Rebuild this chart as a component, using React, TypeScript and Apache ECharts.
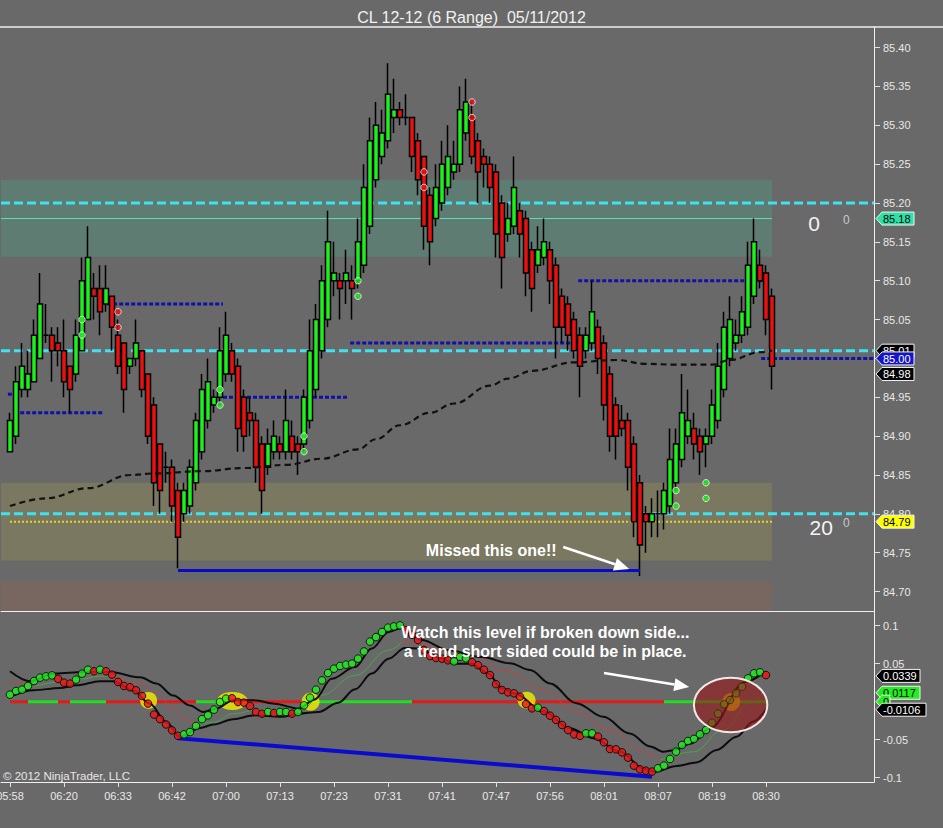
import React, { useEffect, useRef } from "react";
import * as echarts from "echarts";

const TITLE = "CL 12-12 (6 Range)  05/11/2012";
const COPYRIGHT = "\u00a9 2012 NinjaTrader, LLC";
const NOTE_MISSED = "Missed this one!!";
const NOTE_WATCH = "Watch this level if broken down side...\na trend short sided could be in place.";

// ---- price bars (index 0..127) ----
const opens = [
  84.88, 84.90, 84.96, 84.96, 84.97, 85.00, 85.03, 85.03, 85.02, 85.01,
  84.99, 84.98, 85.01, 85.05, 85.09, 85.09, 85.07, 85.08, 85.03, 85.02,
  84.99, 85.00, 85.01, 84.98, 84.94, 84.89, 84.86, 84.86, 84.83, 84.80,
  84.81, 84.84, 84.88, 84.92, 84.94, 84.95, 84.98, 85.01, 84.99, 84.95,
  84.93, 84.92, 84.89, 84.86, 84.88, 84.89, 84.88, 84.90, 84.89, 84.89,
  84.92, 84.96, 85.01, 85.05, 85.10, 85.10, 85.10, 85.10, 85.10, 85.12,
  85.17, 85.23, 85.26, 85.28, 85.31, 85.32, 85.31, 85.31, 85.28, 85.26,
  85.21, 85.18, 85.20, 85.22, 85.24, 85.25, 85.29, 85.31, 85.28, 85.26,
  85.25, 85.24, 85.20, 85.16, 85.17, 85.19, 85.18, 85.14, 85.12, 85.13,
  85.14, 85.12, 85.08, 85.07, 85.05, 85.03, 85.01, 85.02, 85.04, 85.02,
  84.98, 84.94, 84.92, 84.92, 84.89, 84.84, 84.80, 84.79, 84.80, 84.80,
  84.81, 84.84, 84.87, 84.90, 84.91, 84.90, 84.89, 84.90, 84.92, 84.96,
  85.00, 85.02, 85.03, 85.04, 85.08, 85.12, 85.11, 85.08,
];
const highs = [
  84.93, 84.99, 85.02, 85.01, 85.05, 85.11, 85.07, 85.04, 85.04, 85.05,
  84.99, 85.05, 85.13, 85.17, 85.11, 85.12, 85.12, 85.08, 85.05, 85.02,
  85.00, 85.05, 85.01, 84.98, 84.95, 84.89, 84.88, 84.87, 84.84, 84.84,
  84.87, 84.93, 84.98, 85.00, 84.96, 85.04, 85.06, 85.02, 85.00, 84.96,
  84.95, 84.93, 84.90, 84.91, 84.92, 84.90, 84.96, 84.92, 84.90, 84.96,
  85.05, 85.07, 85.12, 85.19, 85.15, 85.11, 85.14, 85.12, 85.18, 85.25,
  85.31, 85.33, 85.32, 85.38, 85.36, 85.33, 85.34, 85.31, 85.29, 85.26,
  85.22, 85.25, 85.28, 85.30, 85.28, 85.35, 85.36, 85.33, 85.29, 85.27,
  85.26, 85.25, 85.21, 85.20, 85.26, 85.20, 85.19, 85.15, 85.17, 85.18,
  85.15, 85.13, 85.09, 85.08, 85.06, 85.04, 85.04, 85.10, 85.05, 85.03,
  84.99, 84.95, 84.94, 84.93, 84.90, 84.85, 84.81, 84.82, 84.83, 84.84,
  84.91, 84.91, 84.98, 84.96, 84.93, 84.91, 84.91, 84.96, 85.02, 85.06,
  85.08, 85.05, 85.08, 85.15, 85.18, 85.14, 85.12, 85.09,
];
const lows = [
  84.88, 84.89, 84.95, 84.95, 84.97, 85.00, 85.02, 84.97, 84.99, 84.95,
  84.93, 84.97, 85.01, 85.05, 85.05, 85.03, 85.06, 85.01, 84.98, 84.93,
  84.98, 84.99, 84.95, 84.89, 84.81, 84.80, 84.84, 84.79, 84.73, 84.79,
  84.80, 84.83, 84.87, 84.91, 84.93, 84.94, 84.97, 84.97, 84.88, 84.88,
  84.90, 84.84, 84.80, 84.85, 84.87, 84.87, 84.87, 84.87, 84.85, 84.88,
  84.91, 84.95, 85.00, 85.04, 85.08, 85.05, 85.07, 85.05, 85.09, 85.11,
  85.16, 85.22, 85.25, 85.27, 85.29, 85.30, 85.30, 85.24, 85.21, 85.14,
  85.12, 85.17, 85.19, 85.21, 85.23, 85.24, 85.28, 85.25, 85.20, 85.22,
  85.20, 85.13, 85.09, 85.15, 85.16, 85.13, 85.08, 85.06, 85.11, 85.12,
  85.07, 85.00, 85.02, 85.01, 85.00, 84.95, 85.00, 85.01, 84.98, 84.92,
  84.88, 84.87, 84.90, 84.83, 84.77, 84.72, 84.75, 84.77, 84.77, 84.78,
  84.80, 84.83, 84.86, 84.89, 84.87, 84.85, 84.86, 84.89, 84.91, 84.95,
  84.99, 85.01, 85.02, 85.03, 85.07, 85.09, 85.03, 84.96,
];
const closes = [
  84.92, 84.97, 84.99, 84.98, 85.03, 85.07, 85.03, 85.01, 85.01, 84.97,
  84.96, 85.03, 85.10, 85.13, 85.08, 85.06, 85.09, 85.04, 84.99, 84.96,
  85.00, 85.02, 84.96, 84.90, 84.84, 84.83, 84.86, 84.81, 84.77, 84.83,
  84.86, 84.92, 84.96, 84.97, 84.95, 85.01, 85.03, 84.98, 84.91, 84.90,
  84.92, 84.86, 84.83, 84.89, 84.90, 84.88, 84.92, 84.88, 84.88, 84.95,
  85.01, 85.05, 85.10, 85.15, 85.11, 85.09, 85.11, 85.09, 85.15, 85.22,
  85.28, 85.30, 85.29, 85.34, 85.32, 85.31, 85.31, 85.26, 85.23, 85.17,
  85.15, 85.22, 85.25, 85.26, 85.25, 85.32, 85.33, 85.26, 85.24, 85.25,
  85.22, 85.16, 85.13, 85.18, 85.22, 85.16, 85.11, 85.09, 85.14, 85.15,
  85.10, 85.04, 85.04, 85.03, 85.01, 84.99, 85.03, 85.06, 85.00, 84.94,
  84.90, 84.90, 84.91, 84.86, 84.79, 84.76, 84.79, 84.80, 84.80, 84.83,
  84.87, 84.89, 84.93, 84.92, 84.89, 84.88, 84.90, 84.94, 84.99, 85.04,
  85.05, 85.03, 85.06, 85.12, 85.15, 85.10, 85.05, 84.99,
];

// ---- axes ----
const timeLabels = ["05:58", "06:20", "06:33", "06:42", "07:00", "07:13", "07:23", "07:31", "07:41", "07:47", "07:56", "08:01", "08:07", "08:19", "08:30"];
const TIME_LABEL_EVERY = 9;
const priceTicks = [84.7, 84.75, 84.8, 84.85, 84.9, 84.95, 85.0, 85.05, 85.1, 85.15, 85.2, 85.25, 85.3, 85.35, 85.4];
const oscTicks = [-0.1, -0.05, 0.05, 0.1];
const PRICE_RANGE = [84.675, 85.4265];
const OSC_RANGE = [-0.1057, 0.1193];
const X_RANGE = [-1.5, 144];

// ---- price panel overlays ----
const maPoints = [
  [0, 84.81], [6, 84.82], [13, 84.833], [20, 84.85], [24, 84.852], [32, 84.855], [39, 84.859], [46, 84.863],
  [52, 84.871], [58, 84.883], [61, 84.896], [65, 84.914], [70, 84.93], [74, 84.942], [80, 84.965], [83, 84.974],
  [87, 84.984], [94, 84.995], [101, 84.998], [106, 84.993], [111, 84.992], [117, 84.992], [120, 84.998], [125, 85.008], [127, 85.01],
];
const cyanLevels = [85.2, 85.01, 84.8];
const aquaLevel = 85.18;
const yellowLevel = 84.79;
const zoneBounds = [[85.131, 85.23], [84.74, 84.84], [84.675, 84.714]];
const ZONE_END = 127;
const blueDashSegs = [
  [-0.35, 0.5, 84.954], [1.7, 15.5, 84.93], [16.2, 35.5, 85.07], [35.5, 56.5, 84.95],
  [56.7, 93.5, 85.02], [94.7, 125.8, 85.1], [125.2, 144, 85.0],
];
const supportLine = [[28, 84.727], [105, 84.727]];
const signalDots = [
  [12, 85.05, "g"], [12, 85.03, "g"], [18, 85.06, "r"], [18, 85.04, "r"], [35, 84.96, "g"], [35, 84.94, "g"],
  [49, 84.90, "g"], [49, 84.88, "g"], [58, 85.10, "g"], [58, 85.08, "g"], [69, 85.24, "r"], [69, 85.22, "r"],
  [77, 85.33, "r"], [77, 85.31, "r"], [111, 84.83, "g"], [111, 84.81, "g"], [116, 84.84, "g"], [116, 84.82, "g"],
];
const topFlags = [
  [85.18, "85.18"], [85.01, "85.01"], [84.98, "84.98"], [85.0, "85.00"], [84.79, "84.79"],
];
const zoneCounts = [["0", "0", 85.174, 85.178], ["20", "0", 84.783, 84.788]];
const missedNote = [80.2, 84.7534];
const missedArrow = [[92.2, 84.7573], [103.2, 84.729]];

// ---- oscillator panel ----
const dotVals = [
  0.0092, 0.014, 0.0158, 0.0206, 0.0272, 0.0316, 0.0333, 0.0346, 0.030, 0.025,
  0.0237, 0.029, 0.0368, 0.042, 0.040, 0.042, 0.040, 0.0355, 0.026, 0.0206,
  0.019, 0.015, 0.0075, -0.0026, -0.017, -0.023, -0.030, -0.0377, -0.045, -0.043,
  -0.040, -0.032, -0.023, -0.018, -0.0105, -0.0004, 0.004, 0.0045, -0.0005, -0.0013,
  -0.0057, -0.0136, -0.0158, -0.0136, -0.015, -0.0136, -0.0136, -0.0158, -0.0136, -0.0048,
  0.0053, 0.0158, 0.028, 0.0377, 0.0434, 0.047, 0.0487, 0.050, 0.0566, 0.066,
  0.079, 0.085, 0.0917, 0.0974, 0.099, 0.1004, 0.094, 0.088, 0.081, 0.068,
  0.060, 0.0575, 0.0566, 0.0544, 0.053, 0.059, 0.057, 0.052, 0.048, 0.042,
  0.035, 0.023, 0.0154, 0.0123, 0.011, 0.0066, -0.0031, -0.0088, -0.0079, -0.0123,
  -0.0184, -0.024, -0.0307, -0.0373, -0.043, -0.045, -0.0417, -0.0417, -0.046, -0.0535,
  -0.0623, -0.0627, -0.0667, -0.0737, -0.0842, -0.089, -0.0908, -0.092, -0.0877, -0.0842,
  -0.0754, -0.0658, -0.057, -0.0518, -0.049, -0.043, -0.0373, -0.0276, -0.0158, -0.0035,
  0.0022, 0.011, 0.0197, 0.0307, 0.0373, 0.0386, 0.035,
];
const dotColorRuns = [
  ["g", 8], ["r", 3], ["g", 3], ["r", 1], ["g", 1], ["r", 13], ["g", 8], ["r", 6], ["g", 1], ["r", 1], ["g", 2],
  ["r", 1], ["g", 18], ["r", 8], ["g", 3], ["r", 11], ["g", 1], ["r", 7], ["g", 2], ["r", 10], ["g", 18], ["r", 1],
];
const upperBand = [
  [0, 0.040], [3.3, 0.027], [7.5, 0.037], [12.2, 0.039], [16.7, 0.039], [21.7, 0.032], [24.4, 0.024], [27.2, 0.008],
  [30, -0.005], [32.2, -0.0136], [34.4, -0.009], [37.2, 0.002], [40.8, 0.0018], [44.1, -0.0026], [48.1, -0.0092],
  [50.8, 0.003], [53.6, 0.030], [57.5, 0.0456], [60.3, 0.070], [63.1, 0.0917], [65.3, 0.097], [68.6, 0.081],
  [73.1, 0.0675], [78.6, 0.0588], [83.3, 0.0504], [86.7, 0.0417], [90, 0.024], [94.4, -0.002], [98.9, -0.020],
  [103.3, -0.042], [106.7, -0.059], [108.9, -0.066], [110.6, -0.064], [113.5, -0.055], [116.7, -0.035],
  [122.5, 0.026], [125.6, 0.038],
];
const lowerBand = [
  [0.5, 0.008], [3.9, 0.015], [8.3, 0.018], [11.1, 0.0215], [15, 0.027], [17.2, 0.027], [20.5, 0.015],
  [23.3, -0.0026], [26.1, -0.027], [28.3, -0.0465], [31.7, -0.0346], [33.9, -0.030], [37.2, -0.023],
  [40.8, -0.018], [45.3, -0.020], [48.1, -0.0158], [51.4, -0.0136], [54.7, -0.0013], [57.5, 0.0162],
  [60.3, 0.037], [63.1, 0.0566], [65.8, 0.0706], [68.5, 0.070], [71, 0.059], [74.2, 0.050], [76.9, 0.050],
  [79.7, 0.037], [81.9, 0.018], [84.2, 0.0105], [88.9, -0.013], [93.3, -0.035], [97.2, -0.048],
  [101.7, -0.066], [105.6, -0.088], [107.5, -0.092], [111.1, -0.0846], [114.4, -0.080], [117.8, -0.0636],
  [121.1, -0.046], [123.9, -0.026], [126.1, -0.0088],
];
const signalSegs = [
  ["r", [[0, 0.026], [2, 0.024], [4, 0.020]]],
  ["g", [[4, 0.020], [8.3, 0.026], [12, 0.030], [15, 0.0335], [17.2, 0.034]]],
  ["r", [[17.2, 0.034], [21.7, 0.0237], [24.5, 0.0105], [27.2, -0.009], [29.4, -0.024], [31.5, -0.030]]],
  ["g", [[31.5, -0.030], [33.9, -0.027], [37.2, -0.016], [41.7, -0.010], [45, -0.011], [48.7, -0.009], [51.9, 0.0083], [57.5, 0.0346], [63.1, 0.0675], [65.3, 0.0785]]],
  ["r", [[65.3, 0.0785], [68.6, 0.076], [72, 0.068], [76.9, 0.061], [82.5, 0.041], [88.9, 0.015], [94.4, -0.013], [100, -0.037], [105.6, -0.066], [108.3, -0.077]]],
  ["g", [[108.3, -0.077], [113.9, -0.066], [118.9, -0.037], [123.3, -0.002], [125.5, 0.012]]],
];
const zeroSegs = [
  [0, 3, "r"], [3, 8, "g"], [8, 10, "r"], [10, 16, "g"], [16, 31, "r"], [31, 37, "g"], [37, 49, "r"], [49, 67, "g"], [67, 109, "r"], [109, 126, "g"],
];
const crossBlobs = [[23.1, 0.0016], [37.05, 0.001], [50.1, 0.0], [86.1, 0.002], [120.2, -0.0005]];
const blobSizes = [[17, 17], [31, 18], [18, 18], [18, 17], [18, 18]];
const oscTrendLine = [[28, -0.048], [107, -0.0987]];
const oscFlags = [[0.0339, "0.0339"], [0.0117, "0.0117"], [0, "0"], [-0.0106, "-0.0106"]];
const watchCircle = [120.1, -0.0043];
const watchNote = [89.2, 0.0786];
const watchArrow = [[99, 0.0378], [113.2, 0.0193]];

// ---- styling ----
const BG = "#696969";
const FONT = '"Liberation Sans", Arial, sans-serif';
const GREEN = "#1fee1f";
const RED = "#e81212";
const AXIS_TXT = "#e8e8e8";
const ZONE_COLORS = ["#5e7c72", "#7a7860", "#786761"];
const TOP_FLAG_STYLE = [
  ["#2ee0a8", "#000"], ["#000", "#fff"], ["#000", "#fff"], ["#1414c8", "#fff"], ["#ffff00", "#000"],
];
const OSC_FLAG_STYLE = [["#000", "#fff"], ["#22ee22", "#000"], ["#22ee22", "#000"], ["#000", "#fff"]];

function lineSeries(data: any, axis: number, color: string, width: number, extra: any = {}) {
  return {
    type: "line",
    xAxisIndex: axis,
    yAxisIndex: axis,
    data,
    showSymbol: false,
    symbol: "none",
    silent: true,
    animation: false,
    lineStyle: { color, width, ...(extra.lineStyle || {}) },
    z: extra.z ?? 2,
    smooth: extra.smooth ?? false,
    smoothMonotone: extra.smooth ? "x" : undefined,
  };
}

function buildOption() {
  const series: any[] = [];
  cyanLevels.forEach((v) =>
    series.push(lineSeries([[X_RANGE[0], v], [X_RANGE[1], v]], 0, "#3fe2f0", 3, { z: 1, lineStyle: { type: [9, 4] } }))
  );
  series.push(lineSeries([[X_RANGE[0], aquaLevel], [ZONE_END, aquaLevel]], 0, "#5fe0b8", 1, { z: 1 }));
  series.push(lineSeries([[0, yellowLevel], [ZONE_END, yellowLevel]], 0, "#e8d41c", 2, { z: 1, lineStyle: { type: [2, 2] } }));
  blueDashSegs.forEach(([a, b, v]) =>
    series.push(lineSeries([[a, v], [b, v]], 0, "#1010aa", 3, { z: 1, lineStyle: { type: [4, 2] } }))
  );
  series.push({
    type: "candlestick",
    xAxisIndex: 0,
    yAxisIndex: 0,
    data: opens.map((o, i) => [i, o, closes[i], lows[i], highs[i]]),
    encode: { x: 0, y: [1, 2, 3, 4] },
    barWidth: 5.6,
    silent: true,
    itemStyle: { color: GREEN, color0: RED, borderColor: "#000", borderColor0: "#000", borderColorDoji: "#000", borderWidth: 1.5 },
    z: 3,
  });
  series.push(lineSeries(maPoints, 0, "#111", 2.2, { z: 4, smooth: 0.4, lineStyle: { type: [6, 4] } }));
  series.push(lineSeries(supportLine, 0, "#0a0ac8", 3, { z: 4 }));
  series.push({
    type: "scatter",
    xAxisIndex: 0,
    yAxisIndex: 0,
    silent: true,
    symbolSize: 6.5,
    data: signalDots.map(([i, p, c]) => ({ value: [i, p], itemStyle: { color: c === "g" ? GREEN : RED } })),
    itemStyle: { borderColor: "#f4f4f4", borderWidth: 1 },
    z: 5,
  });

  // oscillator panel
  zeroSegs.forEach(([a, b, c]) =>
    series.push(lineSeries([[a, 0], [b, 0]], 1, c === "g" ? "#22dd22" : "#e21a1a", 3, { z: 1 }))
  );
  series.push({
    type: "scatter",
    xAxisIndex: 1,
    yAxisIndex: 1,
    silent: true,
    data: crossBlobs.map((p, k) => ({ value: p, symbolSize: blobSizes[k] })),
    itemStyle: { color: "#f2ee00" },
    z: 2,
  });
  signalSegs.forEach(([c, pts]: any) =>
    series.push(lineSeries(pts, 1, c === "g" ? "#4aa64a" : "#c24444", 1, { z: 3, smooth: 0.4 }))
  );
  series.push(lineSeries(upperBand, 1, "#0d0d0d", 2, { z: 3, smooth: 0.35 }));
  series.push(lineSeries(lowerBand, 1, "#0d0d0d", 2, { z: 3, smooth: 0.35 }));
  series.push(lineSeries(oscTrendLine, 1, "#0b0bd0", 4, { z: 3 }));
  const dotColors: string[] = [];
  dotColorRuns.forEach(([c, n]: any) => {
    for (let k = 0; k < n; k++) dotColors.push(c);
  });
  series.push({
    type: "scatter",
    xAxisIndex: 1,
    yAxisIndex: 1,
    silent: true,
    symbolSize: 7.6,
    data: dotVals.map((v, i) => ({ value: [i, v], itemStyle: { color: dotColors[i] === "g" ? "#1ef01e" : "#ee1414" } })),
    itemStyle: { borderColor: "#000", borderWidth: 1 },
    z: 6,
  });

  const tickIdx = timeLabels.map((_, k) => k * TIME_LABEL_EVERY);
  return {
    animation: false,
    backgroundColor: BG,
    textStyle: { fontFamily: FONT },
    title: {
      text: TITLE,
      left: "center",
      top: 4,
      textStyle: { color: "#f2f2f2", fontSize: 16, fontWeight: "normal", fontFamily: FONT },
    },
    grid: [
      { left: 1, top: 27, width: 873, height: 584, containLabel: false, outerBoundsMode: "none" },
      { left: 1, top: 611, width: 873, height: 171, containLabel: false, outerBoundsMode: "none" },
    ],
    xAxis: [
      {
        type: "value", gridIndex: 0, min: X_RANGE[0], max: X_RANGE[1], position: "bottom",
        axisLine: { show: true, onZero: false, lineStyle: { color: "#f0f0f0", width: 1 } },
        axisTick: { show: false }, axisLabel: { show: false }, splitLine: { show: false },
      },
      {
        type: "value", gridIndex: 1, min: X_RANGE[0], max: X_RANGE[1], position: "bottom",
        axisLine: { show: true, onZero: false, lineStyle: { color: "#f0f0f0", width: 1 } },
        axisTick: { show: true, length: 5, inside: false, customValues: tickIdx, lineStyle: { color: "#e0e0e0" } },
        axisLabel: {
          show: true, customValues: tickIdx, margin: 8, color: AXIS_TXT, fontSize: 11, fontFamily: FONT,
          formatter: (v: number) => timeLabels[Math.round(v / TIME_LABEL_EVERY)] ?? "",
        },
        splitLine: { show: false },
      },
    ],
    yAxis: [
      {
        type: "value", gridIndex: 0, position: "right", min: PRICE_RANGE[0], max: PRICE_RANGE[1], scale: true,
        axisLine: { show: true, onZero: false, lineStyle: { color: "#f0f0f0", width: 1 } },
        axisTick: { show: true, length: 6, inside: false, customValues: priceTicks, lineStyle: { color: "#e0e0e0" } },
        axisLabel: {
          show: true, customValues: priceTicks, margin: 9, color: AXIS_TXT, fontSize: 11, fontFamily: FONT,
          formatter: (v: number) => v.toFixed(2),
        },
        splitLine: { show: false },
      },
      {
        type: "value", gridIndex: 1, position: "right", min: OSC_RANGE[0], max: OSC_RANGE[1], scale: true,
        axisLine: { show: true, onZero: false, lineStyle: { color: "#f0f0f0", width: 1 } },
        axisTick: { show: true, length: 6, inside: false, customValues: oscTicks, lineStyle: { color: "#e0e0e0" } },
        axisLabel: {
          show: true, customValues: oscTicks, margin: 9, color: AXIS_TXT, fontSize: 11, fontFamily: FONT,
          formatter: (v: number) => String(Math.round(v * 1000) / 1000),
        },
        splitLine: { show: false },
      },
    ],
    series,
  };
}

function arrowEls(x1: number, y1: number, x2: number, y2: number, z: number) {
  const ang = Math.atan2(y2 - y1, x2 - x1);
  const L = 15, W = 6.5;
  const bx = x2 - L * Math.cos(ang), by = y2 - L * Math.sin(ang);
  const px = -Math.sin(ang) * W, py = Math.cos(ang) * W;
  return [
    { type: "line", silent: true, shape: { x1, y1, x2: bx, y2: by }, style: { stroke: "#ffffff", lineWidth: 2.6 }, z },
    { type: "polygon", silent: true, shape: { points: [[x2, y2], [bx + px, by + py], [bx - px, by - py]] }, style: { fill: "#ffffff" }, z },
  ];
}

function flagEls(axisX: number, py: number, text: string, bg: string, fg: string, z: number) {
  const w = text.length * 6 + 2;
  const x0 = axisX + 2;
  return [
    {
      type: "polygon", silent: true,
      shape: { points: [[x0, py], [x0 + 6, py - 6.5], [x0 + 6 + w, py - 6.5], [x0 + 6 + w, py + 6.5], [x0 + 6, py + 6.5]] },
      style: { fill: bg, stroke: "#f4f4f4", lineWidth: 1 }, z,
    },
    {
      type: "text", silent: true, x: x0 + 7, y: py + 0.5,
      style: { text, fill: fg, fontSize: 11, fontFamily: FONT, align: "left", verticalAlign: "middle" }, z, z2: 10,
    },
  ];
}

function buildGraphics(chart: any) {
  const P = (i: number, v: number) => chart.convertToPixel({ xAxisIndex: 0, yAxisIndex: 0 }, [i, v]) as number[];
  const Q = (i: number, v: number) => chart.convertToPixel({ xAxisIndex: 1, yAxisIndex: 1 }, [i, v]) as number[];
  const g: any[] = [];
  zoneBounds.forEach(([lo, hi], k) => {
    const a = P(X_RANGE[0], hi);
    const b = P(ZONE_END, lo);
    g.push({ type: "rect", silent: true, shape: { x: a[0], y: a[1], width: b[0] - a[0], height: b[1] - a[1] }, style: { fill: ZONE_COLORS[k] }, z: 0 });
  });
  const topLeft = P(X_RANGE[0], PRICE_RANGE[1]);
  g.push({ type: "line", silent: true, shape: { x1: 0, y1: topLeft[1], x2: 943, y2: topLeft[1] }, style: { stroke: "#efefef", lineWidth: 1.5 }, z: 50 });

  // zone counters
  zoneCounts.forEach(([big, small, yb, ys]: any) => {
    const pb = P(big.length > 1 ? 135.2 : 134, yb);
    const ps = P(139.4, ys);
    g.push({ type: "text", silent: true, x: pb[0], y: pb[1], style: { text: big, fill: "#f4f4f4", fontSize: 21, fontFamily: FONT, align: "center", verticalAlign: "middle" }, z: 40 });
    g.push({ type: "text", silent: true, x: ps[0], y: ps[1], style: { text: small, fill: "#c8c8c8", fontSize: 12, fontFamily: FONT, align: "center", verticalAlign: "middle" }, z: 40 });
  });

  // flags on price axis
  const axisX = P(X_RANGE[1], 85)[0];
  topFlags.forEach(([v, t]: any, k) => {
    const py = P(0, v)[1];
    g.push(...flagEls(axisX, py, t, TOP_FLAG_STYLE[k][0], TOP_FLAG_STYLE[k][1], 80 + k));
  });
  oscFlags.forEach(([v, t]: any, k) => {
    const py = Q(0, v)[1];
    g.push(...flagEls(axisX, py, t, OSC_FLAG_STYLE[k][0], OSC_FLAG_STYLE[k][1], 80 + k));
  });

  // missed note
  const mn = P(missedNote[0], missedNote[1]);
  g.push({ type: "text", silent: true, x: mn[0], y: mn[1], style: { text: NOTE_MISSED, fill: "#ffffff", fontSize: 16, fontWeight: "bold", fontFamily: FONT, align: "center", verticalAlign: "middle" }, z: 70 });
  const ma0 = P(missedArrow[0][0], missedArrow[0][1]);
  const ma1 = P(missedArrow[1][0], missedArrow[1][1]);
  g.push(...arrowEls(ma0[0], ma0[1], ma1[0], ma1[1], 70));

  // watch circle + note
  const wc = Q(watchCircle[0], watchCircle[1]);
  g.push({ type: "ellipse", silent: true, shape: { cx: wc[0], cy: wc[1], rx: 36.7, ry: 27.3 }, style: { fill: "rgba(150,22,22,0.62)", stroke: "#f3e8e8", lineWidth: 2 }, z: 60 });
  const wn = Q(watchNote[0], watchNote[1]);
  g.push({ type: "text", silent: true, x: wn[0], y: wn[1], style: { text: NOTE_WATCH, fill: "#ffffff", fontSize: 16, fontWeight: "bold", fontFamily: FONT, align: "center", verticalAlign: "middle", lineHeight: 19 }, z: 70 });
  const wa0 = Q(watchArrow[0][0], watchArrow[0][1]);
  const wa1 = Q(watchArrow[1][0], watchArrow[1][1]);
  g.push(...arrowEls(wa0[0], wa0[1], wa1[0], wa1[1], 70));

  // copyright
  const bl = Q(X_RANGE[0], OSC_RANGE[0]);
  g.push({ type: "text", silent: true, x: bl[0] + 2, y: bl[1] - 6.5, style: { text: COPYRIGHT, fill: "#e6e6e6", fontSize: 11.5, fontFamily: FONT, align: "left", verticalAlign: "middle" }, z: 70 });
  return g;
}

export default function App() {
  const ref = useRef<HTMLDivElement>(null);
  useEffect(() => {
    const el = ref.current;
    if (!el) return;
    const chart = echarts.init(el, null, { renderer: "svg", width: 943, height: 828 });
    chart.setOption(buildOption() as any);
    chart.setOption({ graphic: buildGraphics(chart) } as any);
    return () => chart.dispose();
  }, []);
  return (
    <div
      ref={ref}
      style={{ position: "absolute", left: 0, top: 0, width: 943, height: 828, background: BG, overflow: "hidden" }}
    />
  );
}
